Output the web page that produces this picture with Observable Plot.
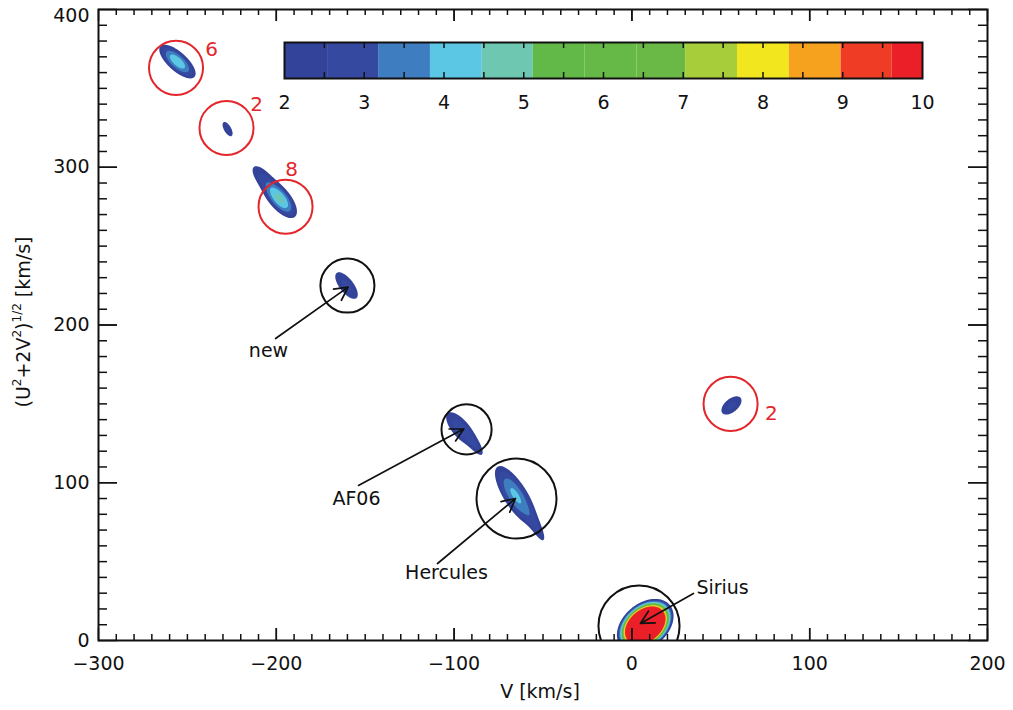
<!DOCTYPE html>
<html><head><meta charset="utf-8">
<script src="https://cdn.jsdelivr.net/npm/d3@7"></script>
<script src="https://cdn.jsdelivr.net/npm/@observablehq/plot@0.6"></script>
<style>
body{margin:0;background:#fff;}
#wrap{position:relative;width:1013px;height:710px;}
#cb{position:absolute;left:264px;top:40px;}
</style></head><body><div id="wrap"><div id="main"></div><div id="cb"></div></div>
<script>
// ---- colour levels (colorbar) ----
const levels = [2.0, 2.54, 3.18, 3.83, 4.48, 5.12, 5.77, 6.42, 7.03, 7.68, 8.33, 8.98, 9.62];
const levelColors = ["#33439a","#3549a1","#3f7dc1","#5cc7e5","#6dc7b1","#63b947","#66b946","#6ab845","#a7cd3b","#f2e71e","#f7a21f","#ee3c25","#eb1f27"];
const colorbarLabels = [2, 3, 4, 5, 6, 7, 8, 9, 10];

// ---- density clumps (group; V, Y centre; half length / half width of outer contour in km/s; angle; peak) ----
const clumpGroup   = [     0,      1,      2,      2,      3,     4,     4,     5,     5,     6,     7];
const clumpV       = [-255.6, -227.4, -198.2, -207.2, -160.5, -96.4, -88.0, -65.5, -54.2,  56.0,   7.5];
const clumpY       = [ 367.0,  324.2,  280.2,  292.9,  225.0, 134.4, 123.6,  92.0,  72.9, 149.0,   9.5];
const clumpHalfLen = [  12.9,    4.5,   13.5,    8.4,    9.0,  11.2,   5.6,  19.0,   9.0,   6.7,  18.0];
const clumpHalfWid = [   5.3,    2.0,    6.0,    3.7,    3.9,   4.8,   2.0,   6.6,   2.3,   3.7,  12.4];
const clumpAngle   = [    42,     60,     50,     50,     52,    50,    55,    58,    62,   -40,   -40];
const clumpPeak    = [   4.4,    2.6,    4.7,    2.6,    2.7,   2.9,   2.4,   4.0,   2.5,   2.7,    43];

// ---- circles ----
const circleV    = [-256.4, -228.0, -194.8, 55.5, -160.0, -93.0, -64.9, 4.0];
const circleY    = [ 363.0,  324.9,  275.0, 150.0, 225.0, 133.8,  90.0, 9.2];
const circleR    = [  15.2,   15.2,   15.2,  15.2,  15.2,  14.1,  22.5, 22.8];
const circleKind = ["red","red","red","red","black","black","black","black"];

// ---- red numbers ----
const redText = ["6", "2", "8", "2"];
const redV    = [-236.4, -211.1, -191.4, 78.5];
const redY    = [ 374.6,  339.8,  298.6, 143.9];

// ---- black labels + arrows ----
const labelText = ["new", "AF06", "Hercules", "Sirius"];
const labelV    = [-204.4, -154.9, -104.3, 51.0];
const labelY    = [ 183.8,   90.0,   43.1, 33.6];
const arrowV1   = [-200.4, -153.8, -109.3, 34.6];
const arrowY1   = [ 191.4,   98.3,   48.8, 29.8];
const arrowV2   = [-159.6,  -94.5,  -65.5,  4.8];
const arrowY2   = [ 224.0,  134.2,   90.0, 10.8];

// ---- axis ticks ----
const xMajor = [-300, -200, -100, 0, 100, 200];
const yMajor = [0, 100, 200, 300, 400];
const xMinor = d3.range(-290, 200, 10);
const yMinor = d3.range(10, 400, 10);

// ---- layout ----
const W = 1013, H = 710, ML = 98, MR = 26, MT = 9, MB = 70;
const kx = (W - ML - MR) / 500, ky = (H - MT - MB) / 400;
const RED = "#e3262b", INK = "#111";
const FONT = "DejaVu Sans";
const nGroups = d3.max(clumpGroup) + 1;

// each clump: elliptical Gaussian whose outermost (level 2) contour has the given half axes;
// clumps of one group are merged with a soft maximum so they form one smooth shape
function density(v, y) {
  const acc = new Float64Array(nGroups);
  for (let i = 0; i < clumpV.length; i++) {
    const dx = (v - clumpV[i]) * kx;
    const dy = -(y - clumpY[i]) * ky;
    const t = clumpAngle[i] * Math.PI / 180;
    const u = dx * Math.cos(t) + dy * Math.sin(t);
    const w = -dx * Math.sin(t) + dy * Math.cos(t);
    const r0 = Math.sqrt(2 * Math.log(clumpPeak[i] / 2));
    const a = clumpHalfLen[i] * kx / r0, b = clumpHalfWid[i] * kx / r0;
    const val = clumpPeak[i] * Math.exp(-0.5 * (u * u / (a * a) + w * w / (b * b)));
    acc[clumpGroup[i]] += val * val * val;
  }
  let s = 0;
  for (let g = 0; g < nGroups; g++) s = Math.max(s, Math.cbrt(acc[g]));
  return s;
}

const circles = circleV.map((v, i) => ({v, y: circleY[i], r: circleR[i], kind: circleKind[i]}));
const reds = redText.map((t, i) => ({t, v: redV[i], y: redY[i]}));
const labels = labelText.map((t, i) => ({t, v: labelV[i], y: labelY[i]}));
const arrows = arrowV1.map((v, i) => ({v1: v, y1: arrowY1[i], v2: arrowV2[i], y2: arrowY2[i]}));
const colorScale = {type: "threshold", domain: levels.slice(1), range: levelColors};

const tickLenX = v => (xMajor.includes(v) ? 12 : 6) / ky;
const tickLenY = v => (yMajor.includes(v) ? 19 : 9) / kx;
const xTicks = [...xMinor, ...xMajor];
const yTicks = [...yMinor, ...yMajor];

const main = Plot.plot({
  width: W, height: H, marginLeft: ML, marginRight: MR, marginTop: MT, marginBottom: MB,
  x: {domain: [-300, 200]},
  y: {domain: [0, 400]},
  color: colorScale,
  r: {type: "identity"},
  style: {fontFamily: FONT, fontSize: "19px", color: INK, background: "white"},
  marks: [
    Plot.contour({fill: density, x1: -300, x2: 200, y1: 0, y2: 400, thresholds: levels, stroke: "none", pixelSize: 1}),
    Plot.dot(circles.filter(d => d.kind === "red"), {x: "v", y: "y", r: d => d.r * kx, stroke: RED, strokeWidth: 2, fill: "none", clip: true}),
    Plot.dot(circles.filter(d => d.kind === "black"), {x: "v", y: "y", r: d => d.r * kx, stroke: INK, strokeWidth: 2, fill: "none", clip: true}),
    Plot.arrow(arrows, {x1: "v1", y1: "y1", x2: "v2", y2: "y2", stroke: INK, strokeWidth: 1.7, headLength: 13, headAngle: 55}),
    Plot.text(labels, {x: "v", y: "y", text: "t", fill: INK, fontSize: 19}),
    Plot.text(reds, {x: "v", y: "y", text: "t", fill: RED, fontSize: 20}),
    Plot.ruleX(xTicks, {x: d => d, y1: () => 0, y2: d => tickLenX(d), stroke: INK, strokeWidth: 1.5}),
    Plot.ruleX(xTicks, {x: d => d, y1: () => 400, y2: d => 400 - tickLenX(d), stroke: INK, strokeWidth: 1.5}),
    Plot.ruleY(yTicks, {y: d => d, x1: () => -300, x2: d => -300 + tickLenY(d), stroke: INK, strokeWidth: 1.5}),
    Plot.ruleY(yTicks, {y: d => d, x1: () => 200, x2: d => 200 - tickLenY(d), stroke: INK, strokeWidth: 1.5}),
    Plot.frame({stroke: INK, strokeWidth: 2}),
    Plot.axisX(xMajor, {tickSize: 0, tickPadding: 16, label: null}),
    Plot.axisY(yMajor.filter(d => d < 400), {tickSize: 0, tickPadding: 9, label: null}),
    Plot.axisY(yMajor.filter(d => d === 400), {tickSize: 0, tickPadding: 9, label: null, dy: 6})
  ]
});
document.getElementById("main").appendChild(main);

// axis titles
const sv = d3.select(main);
sv.append("text").attr("x", 540).attr("y", 692).attr("text-anchor", "middle").attr("dominant-baseline", "middle")
  .attr("font-size", 19).attr("fill", INK).text("V [km/s]");
const yl = sv.append("text").attr("transform", "translate(24,322) rotate(-90)").attr("text-anchor", "middle")
  .attr("dominant-baseline", "middle").attr("font-size", 19).attr("fill", INK);
yl.append("tspan").text("(U");
yl.append("tspan").attr("dy", -7).attr("font-size", 12).text("2");
yl.append("tspan").attr("dy", 7).text("+2V");
yl.append("tspan").attr("dy", -7).attr("font-size", 12).text("2");
yl.append("tspan").attr("dy", 7).text(")");
yl.append("tspan").attr("dy", -7).attr("font-size", 12).text("1/2");
yl.append("tspan").attr("dy", 7).text(" [km/s]");

// colorbar
const bands = levels.map((lo, i) => ({lo, hi: i + 1 < levels.length ? levels[i + 1] : 10.26}));
const cbTicks = d3.range(2.5, 10, 0.5);
const barH = 36;
const cb = Plot.plot({
  width: 678, height: 80, marginLeft: 20, marginRight: 20, marginTop: 2, marginBottom: 42,
  x: {domain: [2, 10]}, y: {domain: [0, 1], axis: null},
  color: colorScale,
  style: {fontFamily: FONT, fontSize: "19px", color: INK, background: "transparent"},
  marks: [
    Plot.rect(bands, {x1: "lo", x2: d => Math.min(d.hi, 10), y1: () => 0, y2: () => 1, fill: "lo"}),
    Plot.ruleX(cbTicks, {x: d => d, y1: () => 1, y2: () => 1 - 6 / barH, stroke: INK, strokeWidth: 1.5}),
    Plot.ruleX(cbTicks, {x: d => d, y1: () => 0, y2: () => 6 / barH, stroke: INK, strokeWidth: 1.5}),
    Plot.frame({stroke: INK, strokeWidth: 2}),
    Plot.axisX(colorbarLabels, {tickSize: 0, tickPadding: 17, label: null})
  ]
});
document.getElementById("cb").appendChild(cb);
</script>
</body></html>
